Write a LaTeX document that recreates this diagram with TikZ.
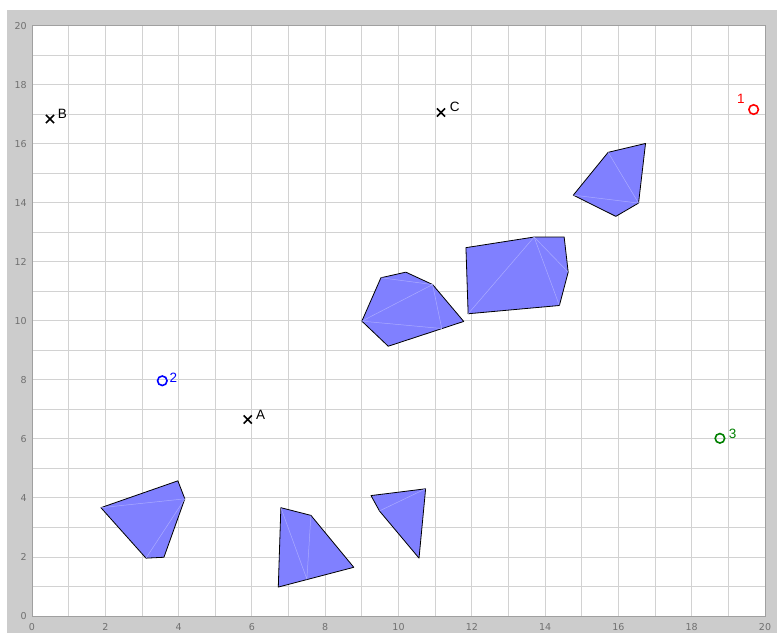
\documentclass[tikz,border=0pt]{standalone}
\usepackage{fontspec}
\setmainfont{Liberation Sans}
\newfontfamily\tickfont{DejaVu Sans}
\usetikzlibrary{shapes.misc}
\definecolor{bggray}{HTML}{CCCCCC}
\definecolor{gridgray}{HTML}{D2D2D2}
\definecolor{framegray}{HTML}{A0A0A0}
\definecolor{polyfill}{HTML}{8080FF}
\definecolor{polyline}{HTML}{ABABFF}
\definecolor{tickgray}{HTML}{707070}
\definecolor{darkgreen}{HTML}{008000}
\begin{document}
\begin{tikzpicture}[x=1pt,y=1pt,
  ticklabel/.style={inner sep=0pt, text=tickgray, font=\tickfont\fontsize{9.5}{10}\selectfont},
  poly/.style={fill=polyfill, draw=black, line width=0.8pt, line join=round},
  tri/.style={draw=polyline, line width=0.5pt},
  xmark/.style={cross out, draw=black, line width=1.6pt, inner sep=0pt, minimum size=6.5pt},
  omark/.style={circle, draw=#1, line width=1.6pt, inner sep=0pt, minimum size=9.5pt},
  ptlabel/.style={inner sep=0pt, font=\fontsize{13.5}{14}\selectfont}]
\useasboundingbox (0,0) rectangle (777,633);
\fill[white] (0,0) rectangle (777,633);
\fill[bggray] (7,0) rectangle (777,623);
\begin{scope}[x=36.65pt, y=29.515pt, shift={(32pt,17pt)}]
  \fill[white] (0,0) rectangle (20,20);
  \draw[gridgray, line width=0.9pt, step={(1,1)}] (0,0) grid (20,20);
  \draw[framegray, line width=0.8pt] (0,0) rectangle (20,20);
  \foreach \v in {0,2,...,20} {
    \node[ticklabel, anchor=east] (yt\v) at (-0.14,\v) {\v};
    \node[ticklabel] (xt\v) at (\v,-0.37) {\v};
  }
  % polygon 1
  \draw[poly] (1.88,3.67) -- (3.98,4.58) -- (4.17,3.97) -- (3.60,1.99) -- (3.11,1.96) -- cycle;
  \draw[tri] (1.88,3.67) -- (4.17,3.97) -- (3.11,1.96);
  % polygon 2
  \draw[poly] (6.79,3.67) -- (7.61,3.41) -- (8.78,1.65) -- (6.72,0.98) -- cycle;
  \draw[tri] (6.79,3.67) -- (7.50,1.25) -- (7.61,3.41);
  % polygon 3
  \draw[poly] (9.25,4.08) -- (10.74,4.31) -- (10.56,1.96) -- (9.48,3.56) -- cycle;
  \draw[tri] (9.48,3.56) -- (10.74,4.31);
  % polygon 4
  \draw[poly] (9.00,9.99) -- (9.52,11.46) -- (10.20,11.65) -- (10.93,11.23) -- (11.78,9.98) -- (9.72,9.14) -- cycle;
  \draw[tri] (9.52,11.46) -- (10.93,11.23) -- (9.00,9.99) -- (11.18,9.74) -- (10.93,11.23);
  % polygon 5
  \draw[poly] (11.84,12.48) -- (13.70,12.84) -- (14.52,12.84) -- (14.63,11.65) -- (14.39,10.52) -- (11.90,10.24) -- cycle;
  \draw[tri] (11.90,10.24) -- (13.70,12.84) -- (14.39,10.52);
  \draw[tri] (13.70,12.84) -- (14.63,11.65);
  % polygon 6
  \draw[poly] (14.77,14.26) -- (15.72,15.71) -- (16.74,16.01) -- (16.55,13.99) -- (15.93,13.54) -- cycle;
  \draw[tri] (15.72,15.71) -- (16.55,13.99) -- (14.77,14.26);
  % markers
  \node[xmark] (A) at (5.886,6.66) {};
  \node[xmark] (B) at (0.491,16.84) {};
  \node[xmark] (C) at (11.16,17.06) {};
  \node[omark=red] (p1) at (19.69,17.16) {};
  \node[omark=blue] (p2) at (3.555,7.97) {};
  \node[omark=darkgreen] (p3) at (18.77,6.02) {};
  \node[ptlabel] (lA) at ([xshift=13pt,yshift=5pt]A.center) {A};
  \node[ptlabel] (lB) at ([xshift=12.3pt,yshift=4.7pt]B.center) {B};
  \node[ptlabel] (lC) at ([xshift=13.7pt,yshift=5.6pt]C.center) {C};
  \node[ptlabel, text=red] (l1) at ([xshift=-12.7pt,yshift=10.3pt]p1.center) {1};
  \node[ptlabel, text=blue] (l2) at ([xshift=11pt,yshift=3.4pt]p2.center) {2};
  \node[ptlabel, text=darkgreen] (l3) at ([xshift=12.7pt,yshift=4.3pt]p3.center) {3};
\end{scope}
\end{tikzpicture}
\end{document}
